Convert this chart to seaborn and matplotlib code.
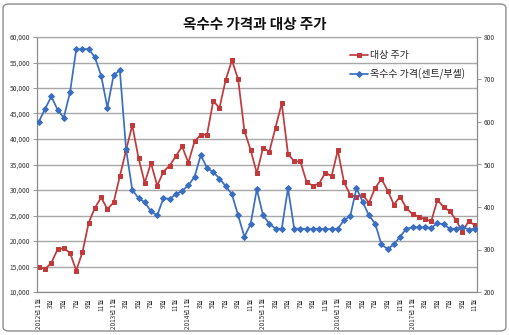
import matplotlib
matplotlib.use("Agg")
import matplotlib.pyplot as plt
from matplotlib.patches import FancyBboxPatch
from matplotlib.ticker import FuncFormatter, MultipleLocator
import seaborn as sns
import pandas as pd

# ---- data (monthly, 2012-01 .. 2017-11) ----
years = [2012, 2013, 2014, 2015, 2016, 2017]
stock_price = [  # 대상 주가 (left axis, KRW)
    14900, 14500, 15700, 18350, 18550, 17700, 14200, 17800, 23600, 26500, 28550, 26250,
    27550, 32700, 37800, 42700, 36250, 31400, 35300, 30850, 33600, 34800, 36650, 38550,
    35350, 39550, 40850, 40850, 47450, 46100, 51600, 55400, 51700, 41600, 37850, 33300,
    38300, 37500, 42250, 47000, 37100, 35600, 35600, 31500, 30850, 31250, 33400, 32700,
    37800, 31500, 29050, 28700, 29050, 27500, 30400, 32170, 29900, 27150, 28700, 26450,
    25260, 24800, 24270, 23880, 28050, 26650, 25800, 24100, 21780, 23880, 23120,
]
corn_price = [  # 옥수수 가격 (right axis, cents/bushel)
    601, 631, 660, 629, 610, 670, 771, 771, 772, 752, 709, 634,
    710, 722, 536, 440, 421, 411, 390, 380, 421, 419, 430, 438,
    451, 471, 522, 492, 482, 467, 449, 430, 380, 330, 360, 442,
    380, 361, 349, 349, 444, 349, 349, 348, 348, 349, 348, 348,
    349, 369, 379, 444, 412, 380, 361, 312, 301, 312, 330, 349,
    352, 352, 352, 351, 362, 359, 349, 349, 353, 347, 349,
]
series_names = ["대상 주가", "옥수수 가격(센트/부셸)"]
left_ticks = [10000, 15000, 20000, 25000, 30000, 35000, 40000, 45000, 50000, 55000, 60000]
right_ticks = [200, 300, 400, 500, 600, 700, 800]

n = len(stock_price)
labels = []
for i in range(n):
    y = years[0] + i // 12
    m = i % 12 + 1
    labels.append(f"{y}년 {m}월" if m == 1 else f"{m}월")

df = pd.DataFrame({"idx": range(n), "stock": stock_price, "corn": corn_price})

# ---- style ----
sns.set_style("white")
plt.rcParams["font.family"] = ["Noto Sans CJK KR", "DejaVu Sans"]
plt.rcParams["axes.unicode_minus"] = False

RED = "#C0393B"
BLUE = "#3A6EC0"
GRID = "#A8A8A8"
AXC = "#8A8A8A"

fig = plt.figure(figsize=(5.10, 3.35), dpi=100)
fig.patch.set_facecolor("white")
ax = fig.add_axes([37 / 510, (335 - 292) / 335, (477 - 37) / 510, (292 - 37) / 335])
ax2 = ax.twinx()

sns.lineplot(data=df, x="idx", y="stock", ax=ax, color=RED, marker="s", markersize=3.3,
             markeredgecolor=RED, linewidth=1.25, label=series_names[0], legend=False, zorder=3)
sns.lineplot(data=df, x="idx", y="corn", ax=ax2, color=BLUE, marker="D", markersize=3.0,
             markeredgecolor=BLUE, linewidth=1.25, label=series_names[1], legend=False, zorder=3)

ax.set_xlim(-0.3, n - 1 + 0.35)
ax.set_ylim(left_ticks[0], left_ticks[-1])
ax2.set_ylim(right_ticks[0], right_ticks[-1])
ax.set_yticks(left_ticks)
ax2.set_yticks(right_ticks)
ax.yaxis.set_major_formatter(FuncFormatter(lambda v, p: f"{int(v):,}"))

ax.set_xticks(list(range(0, n, 2)))
ax.set_xticklabels(labels[0::2], rotation=90, fontsize=4.6, color="#333333", va="top", ha="center")
ax.xaxis.set_minor_locator(MultipleLocator(1))
ax.tick_params(axis="x", which="major", length=3, width=0.6, color=AXC, pad=1.5)
ax.tick_params(axis="x", which="minor", length=2, width=0.5, color=AXC)
ax.tick_params(axis="y", length=3, width=0.6, color=AXC, labelsize=4.8, labelcolor="#333333", pad=2)
ax2.tick_params(axis="y", length=3, width=0.6, color=AXC, labelsize=4.8, labelcolor="#333333", pad=2)
ax.set_xlabel("")
ax.set_ylabel("")
ax2.set_ylabel("")

ax.yaxis.grid(True, color=GRID, linewidth=1.0)
ax.set_axisbelow(True)
for a in (ax, ax2):
    for s in a.spines.values():
        s.set_color(AXC)
        s.set_linewidth(0.8)
ax.spines["top"].set_color(GRID)
ax2.spines["top"].set_color(GRID)

# legend
h1, l1 = ax.get_legend_handles_labels()
h2, l2 = ax2.get_legend_handles_labels()
leg = ax2.legend(h1 + h2, l1 + l2, loc="upper left", bbox_to_anchor=(345 / 510, 1 - 45 / 335),
                 bbox_transform=fig.transFigure, frameon=False, fontsize=7.2,
                 handlelength=1.8, handletextpad=0.2, labelspacing=0.9, borderpad=0)

fig.text(255 / 510, 1 - 24 / 335, "옥수수 가격과 대상 주가", ha="center", va="center",
         fontsize=10.5, fontweight="bold", color="#111111")

border = FancyBboxPatch((0.006, 0.012), 0.986, 0.976, boxstyle="round,pad=0,rounding_size=0.012",
                        transform=fig.transFigure, fill=False, edgecolor="#8C8C8C", linewidth=1.0)
fig.patches.append(border)

fig.savefig("out.png", dpi=100)
